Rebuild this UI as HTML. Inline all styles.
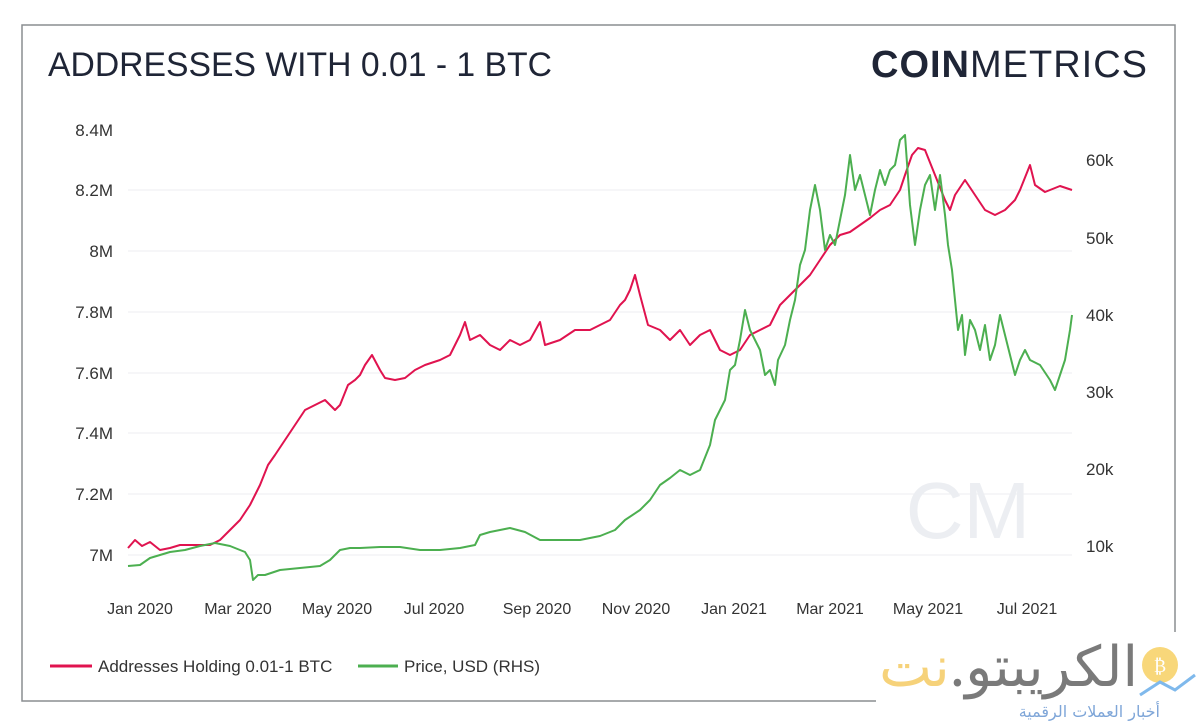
<!DOCTYPE html>
<html><head><meta charset="utf-8"><style>
body{margin:0;background:#fff;width:1200px;height:726px;overflow:hidden;font-family:"Liberation Sans",sans-serif;position:relative;}
.wm{position:absolute;left:876px;top:632px;width:324px;height:94px;background:#fff;}
.ar1{position:absolute;right:62px;top:628px;font-size:56px;line-height:70px;color:#7a7a7a;font-family:"Noto Sans CJK SC","DejaVu Sans",sans-serif;white-space:nowrap;}
.ar2{position:absolute;right:40px;top:700px;font-size:16px;line-height:24px;color:#7fa6d8;letter-spacing:5px;font-family:"DejaVu Sans",sans-serif;white-space:nowrap;}
</style></head><body>
<svg width="1200" height="726" xmlns="http://www.w3.org/2000/svg" font-family="Liberation Sans, sans-serif" style="position:absolute;left:0;top:0">
<rect x="22" y="25" width="1153" height="676" fill="#fff" stroke="#8a8d91" stroke-width="1.5"/>
<text x="48" y="76" font-size="34" fill="#1f2536" textLength="504" lengthAdjust="spacingAndGlyphs">ADDRESSES WITH 0.01 - 1 BTC</text>
<text x="1148" y="77" font-size="38" fill="#1f2536" text-anchor="end" letter-spacing="1"><tspan font-weight="bold">COIN</tspan>METRICS</text>
<g stroke="#eceef0" stroke-width="1">
<line x1="128" x2="1072" y1="190" y2="190"/><line x1="128" x2="1072" y1="251" y2="251"/>
<line x1="128" x2="1072" y1="312" y2="312"/><line x1="128" x2="1072" y1="373" y2="373"/>
<line x1="128" x2="1072" y1="433" y2="433"/><line x1="128" x2="1072" y1="494" y2="494"/>
<line x1="128" x2="1072" y1="555" y2="555"/>
</g>
<g font-size="17" fill="#333" text-anchor="end">
<text x="113" y="136">8.4M</text><text x="113" y="196">8.2M</text><text x="113" y="257">8M</text>
<text x="113" y="318">7.8M</text><text x="113" y="379">7.6M</text><text x="113" y="439">7.4M</text>
<text x="113" y="500">7.2M</text><text x="113" y="561">7M</text>
</g>
<g font-size="17" fill="#333">
<text x="1086" y="166">60k</text><text x="1086" y="244">50k</text><text x="1086" y="321">40k</text>
<text x="1086" y="398">30k</text><text x="1086" y="475">20k</text><text x="1086" y="552">10k</text>
</g>
<g font-size="16" fill="#333" text-anchor="middle">
<text x="140" y="614">Jan 2020</text><text x="238" y="614">Mar 2020</text><text x="337" y="614">May 2020</text>
<text x="434" y="614">Jul 2020</text><text x="537" y="614">Sep 2020</text><text x="636" y="614">Nov 2020</text>
<text x="734" y="614">Jan 2021</text><text x="830" y="614">Mar 2021</text><text x="928" y="614">May 2021</text>
<text x="1027" y="614">Jul 2021</text>
</g>
<text x="968" y="538" font-size="80" fill="#eceef2" text-anchor="middle">CM</text>
<polyline fill="none" stroke="#e0134f" stroke-width="2" stroke-linejoin="round" points="128,548 135,540 142,546 150,542 160,550 170,548 180,545 195,545 210,545 220,540 230,530 240,520 250,505 260,485 268,465 275,455 285,440 295,425 305,410 315,405 325,400 335,410 340,405 348,385 355,380 360,375 365,365 372,355 380,370 385,378 395,380 405,378 415,370 425,365 440,360 450,355 460,335 465,322 470,340 480,335 490,345 500,350 510,340 520,345 530,340 540,322 545,345 560,340 575,330 590,330 600,325 610,320 620,305 625,300 630,290 635,275 640,295 648,325 660,330 670,340 680,330 690,345 700,335 710,330 720,350 730,355 740,350 750,335 760,330 770,325 780,305 790,295 800,285 810,275 820,260 830,245 840,235 850,232 860,225 870,218 880,210 890,205 900,190 905,175 912,155 918,148 925,150 935,175 945,200 950,210 955,195 965,180 975,195 985,210 995,215 1005,210 1015,200 1020,190 1030,165 1035,185 1045,192 1060,186 1072,190"/>
<polyline fill="none" stroke="#4caf50" stroke-width="2" stroke-linejoin="round" points="128,566 140,565 150,558 160,555 170,552 185,550 200,546 215,543 230,546 245,552 250,560 253,580 258,575 265,575 280,570 300,568 320,566 330,560 340,550 350,548 360,548 380,547 400,547 420,550 440,550 460,548 475,545 480,535 490,532 500,530 510,528 525,532 540,540 560,540 580,540 600,536 615,530 625,520 640,510 650,500 660,485 670,478 680,470 690,475 700,470 710,445 715,420 720,410 725,400 730,370 735,365 740,340 745,310 750,330 755,340 760,350 765,375 770,370 775,385 778,360 785,345 790,320 795,300 800,265 805,250 810,210 815,185 820,210 825,250 830,235 835,245 845,195 850,155 855,190 860,175 865,195 870,215 875,190 880,170 885,185 890,170 895,165 900,140 905,135 910,205 915,245 920,210 925,185 930,175 935,210 940,175 945,215 948,245 952,270 955,300 958,330 962,315 965,355 970,320 975,330 980,350 985,325 990,360 995,345 1000,315 1005,335 1010,355 1015,375 1020,360 1025,350 1030,360 1040,365 1050,380 1055,390 1060,375 1065,360 1070,330 1072,315"/>
<line x1="50" x2="92" y1="666" y2="666" stroke="#e0134f" stroke-width="3"/>
<text x="98" y="672" font-size="17" fill="#333">Addresses Holding 0.01-1 BTC</text>
<line x1="358" x2="398" y1="666" y2="666" stroke="#4caf50" stroke-width="3"/>
<text x="404" y="672" font-size="17" fill="#333">Price, USD (RHS)</text>
</svg>
<div class="wm"></div>
<svg width="1200" height="726" style="position:absolute;left:0;top:0">
<circle cx="1160" cy="665" r="18" fill="#f8d77a"/>
<text x="1160" y="672" font-size="18" fill="#fff" text-anchor="middle" font-family="DejaVu Sans">₿</text>
<polyline points="1140,695 1160,682 1175,690 1195,675" fill="none" stroke="#7fb9ec" stroke-width="3"/>
</svg>
<div class="ar1" dir="rtl">الكريبتو.<span style="color:#f6d27a">نت</span></div>
<div class="ar2" dir="rtl">أخبار العملات الرقمية</div>
</body></html>
